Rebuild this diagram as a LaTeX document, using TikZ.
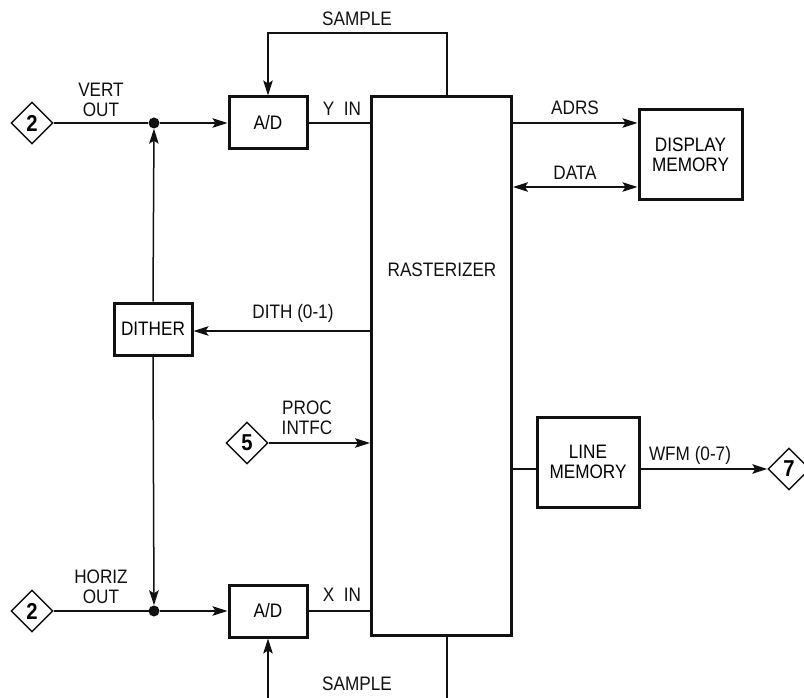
\documentclass[tikz,border=0pt]{standalone}
\usepackage{fontspec}
\setmainfont{Liberation Sans}[FakeStretch=0.88]
\usetikzlibrary{positioning,arrows.meta,shapes.geometric}
\definecolor{ink}{HTML}{111111}
\definecolor{paper}{HTML}{FFFFFF}
\tikzset{
  x=1pt, y=-1pt,
  lbl/.style={font=\fontsize{19.5}{20.5}\selectfont, text=ink, align=center, inner sep=0pt},
  blk/.style={draw=ink, line width=3pt, fill=paper, align=center,
              font=\fontsize{19.5}{20.5}\selectfont, inner sep=0pt},
  pin/.style={draw=ink, line width=1.4pt, diamond, fill=paper, inner sep=0pt,
              minimum width=42pt, minimum height=42pt, font=\fontsize{23}{23}\selectfont\bfseries},
  junc/.style={circle, fill=ink, inner sep=0pt, minimum size=11pt},
  sig/.style={line width=1.5pt, draw=ink},
  flow/.style={-{Stealth[length=15pt,width=9.5pt,inset=3pt]}, line width=1.5pt, draw=ink},
  bus/.style={{Stealth[length=15pt,width=9.5pt,inset=3pt]}-{Stealth[length=15pt,width=9.5pt,inset=3pt]},
              line width=1.5pt, draw=ink},
}

\begin{document}
\begin{tikzpicture}
\clip (0,0) rectangle (804,698);
\fill[paper] (0,0) rectangle (804,698);
% ---- blocks ----
\node[blk, minimum width=140pt, minimum height=538pt] (rast) at (441.5,366) {};
\node[lbl] at (442,270) {RASTERIZER};
\node[blk, minimum width=78pt, minimum height=52pt] (ady) at (268,123) {A/D};
\node[blk, minimum width=78pt, minimum height=52pt] (adx) at (268,611) {A/D};
\node[blk, minimum width=78pt, minimum height=52pt] (dith) at (153,329) {DITHER};
\node[blk, minimum width=103pt, minimum height=90pt] (dmem) at (690.5,155) {DISPLAY\\MEMORY};
\node[blk, minimum width=102pt, minimum height=90pt] (lmem) at (588,462) {LINE\\MEMORY};
% ---- connector pins ----
\node[pin] (vpin) at (32,123) {2};
\node[pin] (hpin) at (32,611) {2};
\node[pin] (ppin) at (247,443) {5};
\node[pin] (wpin) at (789,469) {7};
\node[junc] (vdot) at (154,123) {};
\node[junc] (hdot) at (154,611) {};
% ---- free ends ----
\coordinate (stop) at (447,33);
\coordinate (sbot) at (447,700);
\coordinate (abot) at (268,700);
% ---- vertical / horizontal paths ----
\draw[sig] (vpin.east) -- (vdot);
\draw[flow] (vdot) -- (ady.west);
\draw[sig] (hpin.east) -- (hdot.center);
\draw[flow] (hdot) -- (adx.west);
\draw[flow] (dith.north) -- (vdot);
\draw[flow] (dith.south) -- (hdot);
\draw[sig] (ady.east) -- (rast.west |- ady.east);
\draw[sig] (adx.east) -- (rast.west |- adx.east);
\draw[flow] (rast.north -| stop) -- (stop) -| (ady.north);
\draw[sig] (rast.south -| sbot) -- (sbot);
\draw[flow] (abot) -- (adx.south);
\draw[flow] (rast.west |- 0,331) -- (dith.east |- 0,331);
\draw[flow] (ppin.east) -- (rast.west |- ppin.east);
\draw[flow] (rast.east |- 0,123) -- (dmem.west |- 0,123);
\draw[bus] (rast.east |- 0,187) -- (dmem.west |- 0,187);
\draw[sig] (rast.east |- 0,469) -- (lmem.west |- 0,469);
\draw[flow] (lmem.east |- 0,469) -- (wpin.west);
% ---- labels ----
\node[lbl] at (101,100) {VERT\\OUT};
\node[lbl] at (101,587) {HORIZ\\OUT};
\node[lbl] at (342,109) {Y\ \ IN};
\node[lbl] at (342,595) {X\ \ IN};
\node[lbl] at (357,19) {SAMPLE};
\node[lbl] at (357,684) {SAMPLE};
\node[lbl] at (575,108) {ADRS};
\node[lbl] at (575,173) {DATA};
\node[lbl] at (293,313) {DITH (0-1)};
\node[lbl] at (307,418) {PROC\\INTFC};
\node[lbl] at (690,455) {WFM (0-7)};
\end{tikzpicture}
\end{document}
